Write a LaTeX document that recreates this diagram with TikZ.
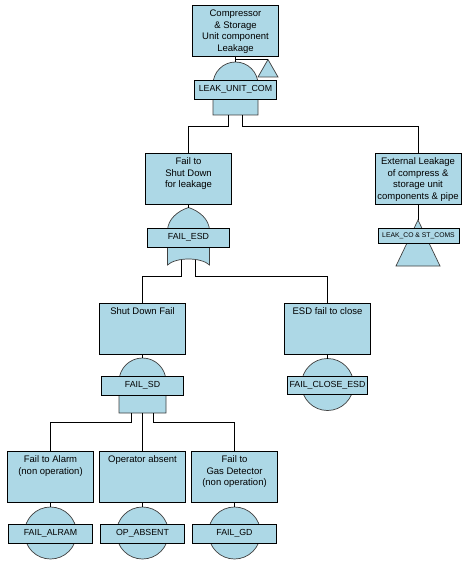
\documentclass[tikz,border=0pt]{standalone}
\usepackage{fontspec}
\setmainfont{Liberation Sans}
\definecolor{evfill}{HTML}{ADD8E6}
\definecolor{gateline}{HTML}{404040}
\newcommand{\boxtxt}[1]{\parbox[c][51pt][t]{86pt}{\centering\vspace*{5pt}#1\par}}
\tikzset{
  evbox/.style={draw=black, line width=0.8pt, fill=evfill, inner sep=0pt, outer sep=0pt, font=\fontsize{9.5}{11.5}\selectfont},
  lbl/.style={draw=black, line width=0.8pt, fill=evfill, inner sep=0pt, minimum width=82pt, minimum height=19pt, font=\fontsize{8.8}{10}\selectfont},
  gatesh/.style={draw=gateline, line width=0.7pt, fill=evfill},
  basic/.style={circle, draw=gateline, line width=0.7pt, fill=evfill, minimum size=52pt, inner sep=0pt, outer sep=0pt},
  wire/.style={draw=black, line width=0.8pt}
}
\begin{document}
\begin{tikzpicture}[x=1pt,y=-1pt]
\useasboundingbox[fill=white] (0,0) rectangle (471,564);

% event boxes
\node[evbox] (B0) at (235.5,30.5) {\boxtxt{Compressor\\ \& Storage\\ Unit component\\ Leakage}};
\node[evbox] (B1) at (188.5,178.5) {\boxtxt{Fail to\\ Shut Down\\ for leakage}};
\node[evbox] (B2) at (418,178.5) {\boxtxt{External Leakage\\ of compress \&\\ storage unit\\ components \& pipe}};
\node[evbox] (B3) at (142.5,328.5) {\boxtxt{Shut Down Fail}};
\node[evbox] (B4) at (327.5,328.5) {\boxtxt{ESD fail to close}};
\node[evbox] (B5) at (50.5,476.5) {\boxtxt{Fail to Alarm\\ (non operation)}};
\node[evbox] (B6) at (142.5,476.5) {\boxtxt{Operator absent}};
\node[evbox] (B7) at (234.5,476.5) {\boxtxt{Fail to\\ Gas Detector\\ (non operation)}};

% gate G0 (AND) with transfer triangle
\path[gatesh] (213,115) -- (213,84.5) arc[start angle=180, end angle=0, radius=22.5pt] -- (258,115) -- cycle;
\coordinate (g0t) at (235.5,62);
\coordinate (g0l) at (228.5,115);
\coordinate (g0r) at (242.5,115);
\coordinate (j0) at (235.5,59.5);
\path[gatesh] (268,59.5) -- (258,77) -- (278,77) -- cycle;
\coordinate (t0) at (268,59.5);
\node[lbl] (L0) at (235.5,89.5) {LEAK\_UNIT\_COM};

% gate G1 (OR)
\path[gatesh] (167.5,265) -- (167.5,231) .. controls (167.5,219) and (178,211) .. (188.5,207.5)
  .. controls (199,211) and (209.5,219) .. (209.5,231) -- (209.5,265)
  .. controls (201,257) and (176,257) .. cycle;
\coordinate (g1t) at (188.5,207.5);
\coordinate (g1l) at (181.5,260);
\coordinate (g1r) at (195.5,260);
\node[lbl] (L1) at (188.5,237.5) {FAIL\_ESD};

% transfer in, external leakage
\path[gatesh] (418,220) -- (396,266) -- (440,266) -- cycle;
\coordinate (t1) at (418,220);
\node[lbl, minimum width=81pt, minimum height=15pt, font=\fontsize{6.8}{8}\selectfont] (L2) at (418.5,235.5) {LEAK\_CO \& ST\_COMS};

% gate G2 (AND)
\path[gatesh] (119,413) -- (119,381.5) arc[start angle=180, end angle=0, radius=23.5pt] -- (166,413) -- cycle;
\coordinate (g2t) at (142.5,358);
\coordinate (g2l) at (131.5,413);
\coordinate (g2m) at (142.5,413);
\coordinate (g2r) at (153.5,413);
\node[lbl] (L3) at (142.5,385.5) {FAIL\_SD};

% basic events
\node[basic] (C4) at (327.5,384.5) {};
\node[lbl, minimum width=80pt, minimum height=18pt] (L4) at (327.5,385.5) {FAIL\_CLOSE\_ESD};
\node[basic] (C5) at (50.5,533) {};
\node[lbl, minimum width=84pt] (L5) at (50.5,533.5) {FAIL\_ALRAM};
\node[basic] (C6) at (142.5,533) {};
\node[lbl, minimum width=84pt] (L6) at (142.5,533.5) {OP\_ABSENT};
\node[basic] (C7) at (234.5,533) {};
\node[lbl, minimum width=84pt] (L7) at (234.5,533.5) {FAIL\_GD};

% level helpers
\coordinate (h1) at (0,126);
\coordinate (h2) at (0,276);
\coordinate (h3) at (0,422);

% connectors
\draw[wire] (B0.south) -- (g0t);
\draw[wire] (j0) -- (t0);
\draw[wire] (g0l) |- (h1 -| B1.north) -- (B1.north);
\draw[wire] (g0r) |- (h1 -| B2.north) -- (B2.north);
\draw[wire] (B1.south) -- (g1t);
\draw[wire] (B2.south) -- (t1);
\draw[wire] (g1l) |- (h2 -| B3.north) -- (B3.north);
\draw[wire] (g1r) |- (h2 -| B4.north) -- (B4.north);
\draw[wire] (B3.south) -- (g2t);
\draw[wire] (B4.south) -- (C4.north);
\draw[wire] (g2l) |- (h3 -| B5.north) -- (B5.north);
\draw[wire] (g2m) -- (B6.north);
\draw[wire] (g2r) |- (h3 -| B7.north) -- (B7.north);
\draw[wire] (B5.south) -- (C5.north);
\draw[wire] (B6.south) -- (C6.north);
\draw[wire] (B7.south) -- (C7.north);
\end{tikzpicture}
\end{document}
